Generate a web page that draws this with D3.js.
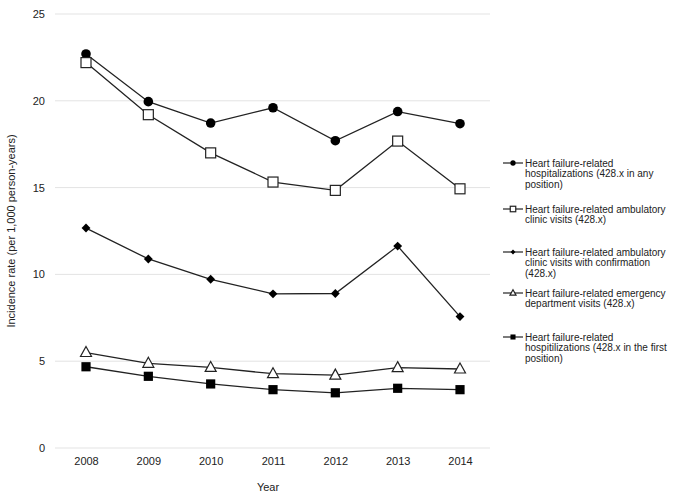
<!DOCTYPE html>
<html><head><meta charset="utf-8">
<script src="https://cdn.jsdelivr.net/npm/d3@7"></script>
<style>body{margin:0;background:#fff}svg{display:block}text{font-family:"Liberation Sans",Arial,sans-serif;fill:#222}</style>
</head><body><svg id="c" width="675" height="499"></svg>
<script>
const years = [2008, 2009, 2010, 2011, 2012, 2013, 2014];
const yTicks = [0, 5, 10, 15, 20, 25];
const hospAny = [22.7, 19.95, 18.72, 19.6, 17.7, 19.38, 18.68];
const ambulatory = [22.2, 19.2, 17.0, 15.32, 14.84, 17.68, 14.93];
const ambulatoryConf = [12.67, 10.89, 9.72, 8.88, 8.9, 11.63, 7.57];
const emergency = [5.5, 4.88, 4.64, 4.28, 4.2, 4.63, 4.55];
const hospFirst = [4.68, 4.13, 3.69, 3.36, 3.18, 3.44, 3.36];
const seriesNames = [
  ["Heart failure-related", "hospitalizations (428.x in any", "position)"],
  ["Heart failure-related ambulatory", "clinic visits (428.x)"],
  ["Heart failure-related ambulatory", "clinic visits with confirmation", "(428.x)"],
  ["Heart failure-related emergency", "department visits (428.x)"],
  ["Heart failure-related", "hospitilizations (428.x in the first", "position)"]
];
const seriesValues = [hospAny, ambulatory, ambulatoryConf, emergency, hospFirst];
const markerTypes = ["circle", "squareOpen", "diamond", "triangleOpen", "square"];

const svg = d3.select("#c");
const x = d3.scalePoint().domain(years).range([86, 460]);
const y = d3.scaleLinear().domain([0, 25]).range([448, 14]);

// gridlines
svg.append("g").selectAll("line").data(yTicks).join("line")
  .attr("x1", 55).attr("x2", 490)
  .attr("y1", d => y(d)).attr("y2", d => y(d))
  .attr("stroke", "#e3e3e3").attr("stroke-width", 1);

// y axis
const ya = svg.append("g").attr("transform", "translate(55,0)")
  .call(d3.axisLeft(y).tickValues(yTicks).tickSize(0).tickPadding(10));
ya.select(".domain").remove();
ya.selectAll("text").style("font-size", "11px").attr("fill", "#222");

// x axis
const xa = svg.append("g").attr("transform", "translate(0,448)")
  .call(d3.axisBottom(x).tickSize(0).tickPadding(9).tickFormat(d3.format("d")));
xa.select(".domain").remove();
xa.selectAll("text").style("font-size", "11px").attr("fill", "#222");

svg.append("text").attr("x", 268).attr("y", 491).attr("text-anchor", "middle")
  .style("font-size", "11px").text("Year");
svg.append("text").attr("transform", "translate(15,231) rotate(-90)")
  .attr("text-anchor", "middle").style("font-size", "11px")
  .text("Incidence rate (per 1,000 person-years)");

function marker(g, type, s) {
  if (type === "circle") {
    g.append("circle").attr("r", 4.8 * s).attr("fill", "#000");
  } else if (type === "squareOpen") {
    g.append("rect").attr("x", -5 * s).attr("y", -5 * s).attr("width", 10 * s).attr("height", 10 * s)
      .attr("fill", "#fff").attr("stroke", "#222").attr("stroke-width", 1.2);
  } else if (type === "square") {
    g.append("rect").attr("x", -4.6 * s).attr("y", -4.6 * s).attr("width", 9.2 * s).attr("height", 9.2 * s)
      .attr("fill", "#000");
  } else if (type === "diamond") {
    g.append("path").attr("d", d3.symbol(d3.symbolDiamond2, 50 * s * s)()).attr("fill", "#000");
  } else if (type === "triangleOpen") {
    const h = 10 * s, w = 11 * s;
    g.append("path").attr("d", `M0,${-h * 0.6}L${w / 2},${h * 0.4}L${-w / 2},${h * 0.4}Z`)
      .attr("fill", "#fff").attr("stroke", "#222").attr("stroke-width", 1.2);
  }
}

const line = d3.line().x((d, i) => x(years[i])).y(d => y(d));
seriesValues.forEach((vals, si) => {
  const g = svg.append("g");
  g.append("path").attr("d", line(vals)).attr("fill", "none").attr("stroke", "#222").attr("stroke-width", 1.3);
  vals.forEach((v, i) => {
    const mg = g.append("g").attr("transform", `translate(${x(years[i])},${y(v)})`);
    marker(mg, markerTypes[si], 1);
  });
});

// legend
const legendY = [163, 209, 252, 293, 337];
seriesNames.forEach((lines, si) => {
  const g = svg.append("g").attr("transform", `translate(0,${legendY[si]})`);
  g.append("line").attr("x1", 503).attr("x2", 523).attr("y1", 0).attr("y2", 0)
    .attr("stroke", "#222").attr("stroke-width", 1.2);
  const mg = g.append("g").attr("transform", "translate(513,0)");
  marker(mg, markerTypes[si], 0.55);
  const t = g.append("text").attr("x", 525).attr("y", 3.5).style("font-size", "10px");
  lines.forEach((l, li) => t.append("tspan").attr("x", 525).attr("dy", li === 0 ? 0 : 10.8).text(l));
});
</script></body></html>
